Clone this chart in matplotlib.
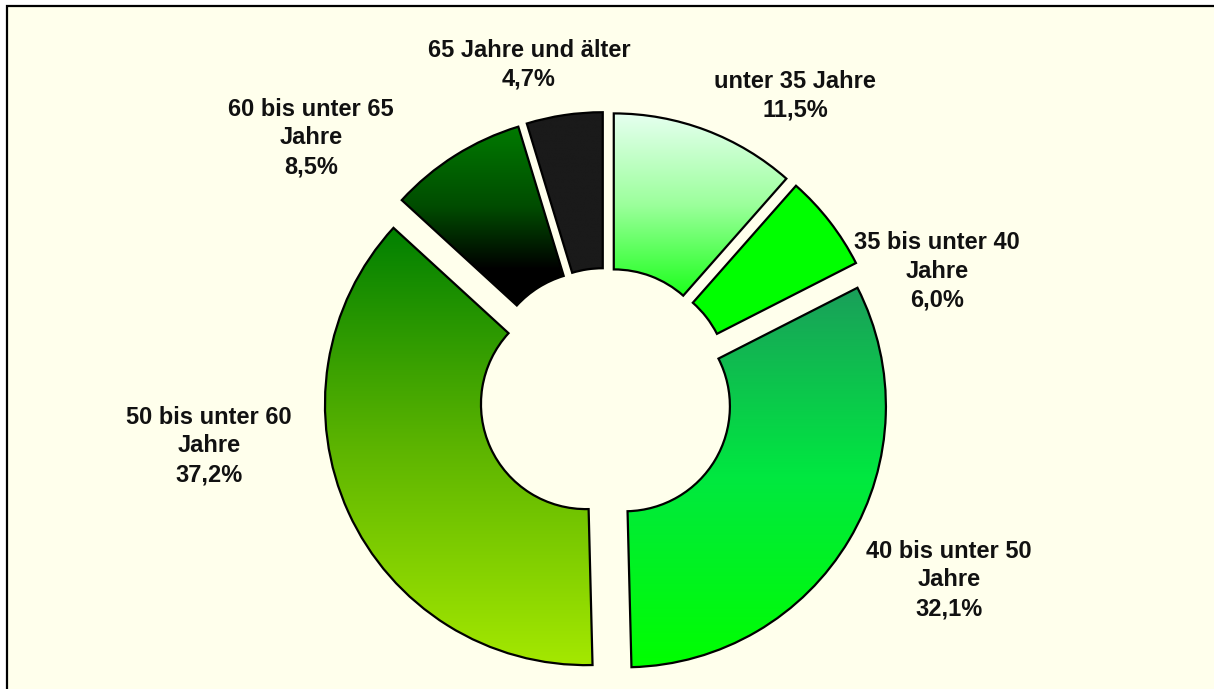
import matplotlib
matplotlib.use("Agg")
import matplotlib.pyplot as plt
import numpy as np
from matplotlib.colors import LinearSegmentedColormap
from matplotlib.patches import Rectangle

# Altersstruktur (Anteile in %), im Uhrzeigersinn ab 12 Uhr
categories = [
    "unter 35 Jahre",
    "35 bis unter 40\nJahre",
    "40 bis unter 50\nJahre",
    "50 bis unter 60\nJahre",
    "60 bis unter 65\nJahre",
    "65 Jahre und älter",
]
shares = [11.5, 6.0, 32.1, 37.2, 8.5, 4.7]

# vertical gradients (top -> bottom) per wedge, (position, colour)
grads = [
    [(0, "#e6fff0"), (0.5, "#9cff9c"), (1, "#1cff1c")],
    [(0, "#00ff00"), (1, "#00ff00")],
    [(0, "#1a9f5a"), (0.5, "#00e840"), (1, "#00ff00")],
    [(0, "#008000"), (0.5, "#5cb400"), (1, "#a4e800")],
    [(0, "#007a00"), (0.45, "#004c00"), (0.8, "#000000"), (1, "#000000")],
    [(0, "#1a1a1a"), (1, "#1a1a1a")],
]
# label anchor points (pixels, y from top)
label_xy = [(795, 96), (937, 271), (949, 580), (209, 446), (311, 138), (529, 65)]

W, H = 1214, 689
BG = "#ffffec"

fig = plt.figure(figsize=(W / 100, H / 100), dpi=100)
fig.patch.set_facecolor(BG)
ax = fig.add_axes([0, 0, 1, 1])

# white margin left and above the chart area, black edge on those two sides
ax.add_patch(Rectangle((0, 0), 7, H, facecolor="white", edgecolor="none", zorder=0))
ax.add_patch(Rectangle((0, H - 6), W, 6, facecolor="white", edgecolor="none", zorder=0))
ax.plot([7, 7, W + 10], [-10, H - 6, H - 6], color="black", linewidth=1.6, zorder=1,
        solid_joinstyle="miter")

wedges, _ = ax.pie(
    shares,
    startangle=90,
    counterclock=False,
    radius=261,
    center=(606, H - 395),
    explode=[22] * len(shares),
    wedgeprops=dict(width=156, edgecolor="black", linewidth=1.6, facecolor="none"),
)

for w, cols in zip(wedges, grads):
    w.set_zorder(3)
    ext = w.get_path().get_extents()
    cmap = LinearSegmentedColormap.from_list("g", cols)
    grad = np.linspace(0, 1, 256).reshape(-1, 1)
    im = ax.imshow(grad, cmap=cmap, aspect="auto", origin="upper", interpolation="bilinear",
                   extent=(ext.x0, ext.x1, ext.y0, ext.y1), zorder=2)
    im.set_clip_path(w)

for cat, val, (lx, ly) in zip(categories, shares, label_xy):
    txt = f"{cat}\n{val:.1f}%".replace(".", ",")
    ax.text(lx, H - ly, txt, ha="center", va="center", fontsize=17, fontweight="bold",
            family="Liberation Sans", color="#111111", linespacing=1.32, zorder=4)

ax.set_xlim(0, W)
ax.set_ylim(0, H)
ax.set_aspect("auto")
ax.axis("off")

fig.savefig("out.png", dpi=100, facecolor=fig.get_facecolor())
